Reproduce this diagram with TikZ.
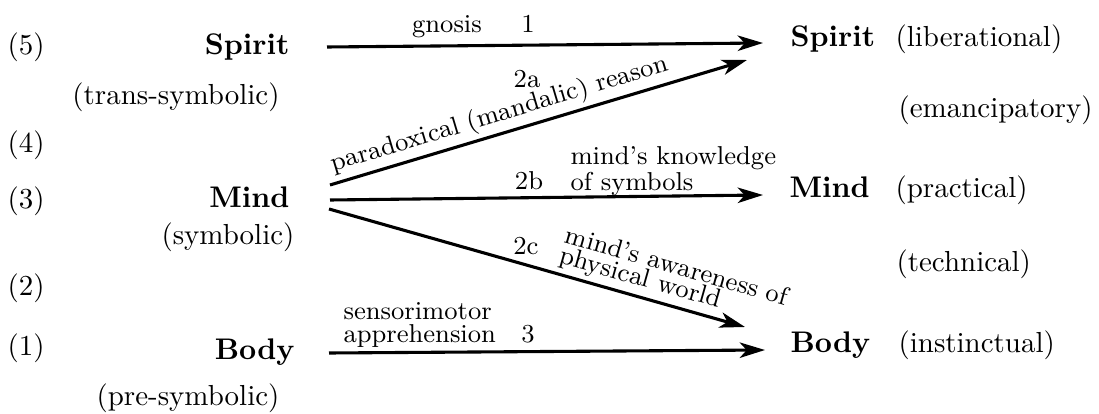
\documentclass[tikz,border=0pt]{standalone}
\usetikzlibrary{arrows.meta}

\begin{document}
\begin{tikzpicture}[
    x=0.0125cm, y=-0.0125cm,
    rank/.style={inner sep=0, font=\fontsize{10.3}{12}\selectfont},
    realm/.style={inner sep=0, font=\fontsize{10.6}{13}\selectfont\bfseries},
    mode/.style={inner sep=0, font=\fontsize{10.3}{12}\selectfont},
    lbl/.style={inner sep=0, font=\fontsize{9.2}{7.4}\selectfont},
    arrow/.style={-{Stealth[length=9pt, width=5.5pt, inset=2.5pt]}, line width=1.1pt}
]
\useasboundingbox (0,0) rectangle (1099,414);

% Levels
\node[rank, anchor=west] (n5) at (7,47) {(5)};
\node[rank, anchor=west] (n4) at (7,145) {(4)};
\node[rank, anchor=west] (n3) at (7,201) {(3)};
\node[rank, anchor=west] (n2) at (7,288) {(2)};
\node[rank, anchor=west] (n1) at (7,348) {(1)};

% Left column
\node[realm, anchor=base east] (spL) at (290,55) {Spirit};
\node[mode] (spLm) at (176,97) {(trans-symbolic)};
\node[realm, anchor=base east] (miL) at (290,208) {Mind};
\node[mode, anchor=east] (miLm) at (295,237) {(symbolic)};
\node[realm, anchor=base east] (boL) at (295,359) {Body};
\node[mode] (boLm) at (188,398) {(pre-symbolic)};

% Right column
\node[realm, anchor=base west] (spR) at (790,47) {Spirit};
\node[mode, anchor=base west] (spRm) at (895,47) {(liberational)};
\node[mode, anchor=west] (emR) at (898,110) {(emancipatory)};
\node[realm, anchor=base west] (miR) at (789,198) {Mind};
\node[mode, anchor=base west] (miRm) at (895,198) {(practical)};
\node[mode, anchor=west] (teR) at (896,264) {(technical)};
\node[realm, anchor=base west] (boR) at (790,353) {Body};
\node[mode, anchor=base west] (boRm) at (898,353) {(instinctual)};

% Arrows
\draw[arrow] ([shift={(37,-8)}]spL.base east) -- ([shift={(-27,-4)}]spR.base west);
\draw[arrow] ([shift={(40,-23)}]miL.base east) -- ([shift={(-43,13)}]spR.base west)
    node[lbl, pos=0.42, sloped, above, inner sep=1.5pt] (t2a) {paradoxical (mandalic) reason};
\draw[arrow] ([shift={(40,-8)}]miL.base east) -- ([shift={(-26,-3)}]miR.base west);
\draw[arrow] ([shift={(39,1)}]miL.base east) -- ([shift={(-45,-26)}]boR.base west)
    node[lbl, pos=0.81, sloped, above, align=left, inner sep=1.5pt] (t2c) {mind's awareness of\\physical world};
\draw[arrow] ([shift={(34,-6)}]boL.base east) -- ([shift={(-25,-3)}]boR.base west);

% Labels
\node[lbl, anchor=base] (g1) at (447,33) {gnosis};
\node[lbl, anchor=base] (k1) at (528,33) {1};
\node[lbl, anchor=base] (k2a) at (527,88) {2a};
\node[lbl, anchor=base] (k2b) at (529,190) {2b};
\node[lbl, anchor=base] (k2c) at (526,255) {2c};
\node[lbl, anchor=base] (k3) at (528,343) {3};
\node[lbl, anchor=base west, align=left] (t2b) at (570,191) {mind's knowledge\\of symbols};
\node[lbl, anchor=base west, align=left, font=\fontsize{9.2}{8.2}\selectfont] (t3) at (343,343) {sensorimotor\\apprehension};
\end{tikzpicture}
\end{document}
